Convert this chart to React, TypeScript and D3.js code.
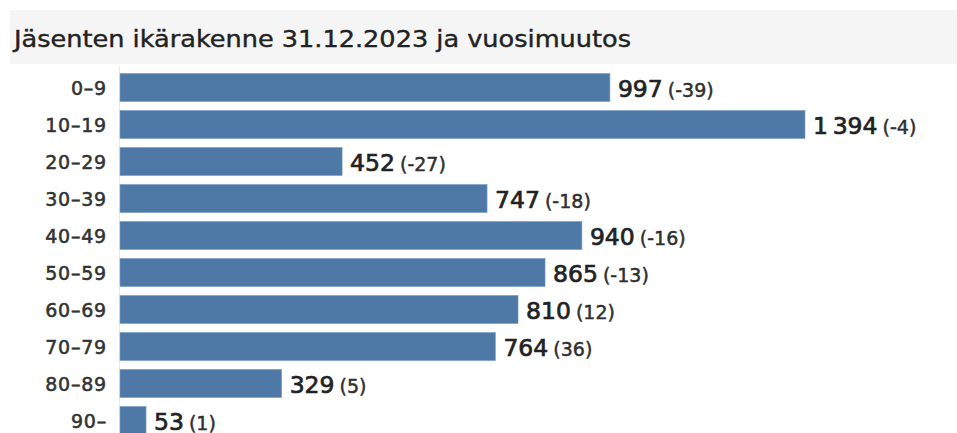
import React from "react";
import * as d3 from "d3";

const categories = ["0–9", "10–19", "20–29", "30–39", "40–49", "50–59", "60–69", "70–79", "80–89", "90–"];
const values = [997, 1394, 452, 747, 940, 865, 810, 764, 329, 53];
const changes = [-39, -4, -27, -18, -16, -13, 12, 36, 5, 1];
const title = "Jäsenten ikärakenne 31.12.2023 ja vuosimuutos";

const W = 957, H = 433;

export default function App() {
  const x = d3.scaleLinear().domain([0, 1394]).range([120, 805]);
  const y = d3.scaleBand<string>().domain(categories).range([69, 69 + 37 * 10]).paddingInner(0.24).paddingOuter(0.12);
  const fmt = (v: number) => d3.format(",")(v).replace(/,/g, "\u202F");
  return (
    <svg width={W} height={H} style={{ position: "absolute", left: 0, top: 0 }}>
      <rect x={0} y={0} width={W} height={H} fill="#fff" />
      <rect x={10} y={10} width={W - 10} height={54} fill="#f5f5f5" />
      <text x={14} y={47} fontFamily="'DejaVu Sans Condensed', 'DejaVu Sans', sans-serif" fontSize={23} fill="#222" stroke="#222" strokeWidth={0.35} textLength={617} lengthAdjust="spacingAndGlyphs">{title}</text>
      <line x1={119.5} x2={119.5} y1={66} y2={H} stroke="#eaeaea" />
      {categories.map((c, i) => {
        const yy = y(c)!;
        const bw = y.bandwidth();
        return (
          <g key={c}>
            <text x={107} y={yy + bw / 2 + 7} textAnchor="end" fontFamily="'DejaVu Sans', sans-serif" fontSize={19} letterSpacing={0.8} fill="#333" stroke="#333" strokeWidth={0.55}>{c}</text>
            <rect x={x(0)} y={yy} width={x(values[i]) - x(0)} height={bw} fill="#4e78a6" stroke="#7f9fc4" strokeWidth={0.6} />
            <text x={x(values[i]) + 8} y={yy + bw / 2 + 9} fontFamily="'DejaVu Sans', sans-serif" fontSize={23.5} fill="#222" stroke="#222" strokeWidth={0.7}>
              {fmt(values[i])}
              <tspan fontSize={19} fill="#333" strokeWidth={0.45} dx={5}>({changes[i]})</tspan>
            </text>
          </g>
        );
      })}
    </svg>
  );
}
